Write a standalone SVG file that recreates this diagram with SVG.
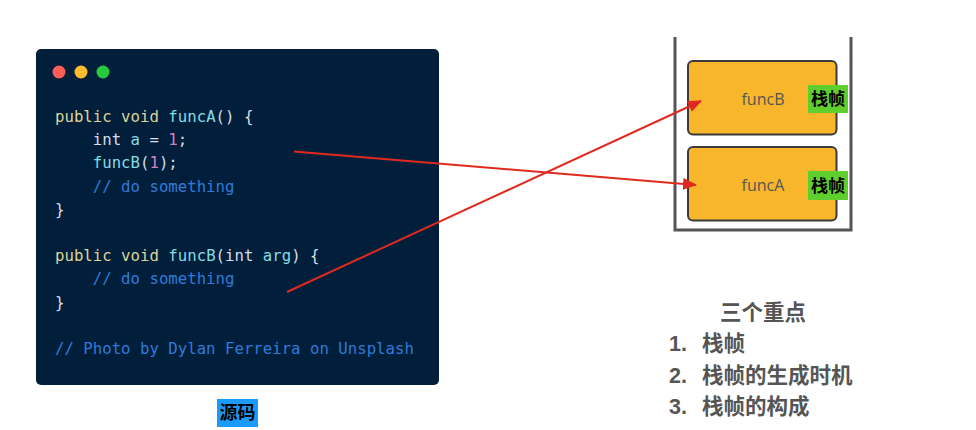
<svg xmlns="http://www.w3.org/2000/svg" width="976" height="430" viewBox="0 0 976 430">
<defs>
<style>
.code{font-family:"DejaVu Sans Mono","Liberation Mono",monospace;font-size:15.7px;fill:#d6deeb;}
.kw{fill:#dcd59a;}
.fn{fill:#86dbe3;}
.num{fill:#d47fc9;}
.cm{fill:#2f7bd8;}
.frame{fill:#f8b62c;stroke:#3a3a3a;stroke-width:2;}
.fname{font-family:"Open Sans","Noto Sans",sans-serif;font-size:16px;fill:#555;text-anchor:middle;}
.tag{fill:#5fcf2e;}
.tagt{font-family:"Noto Sans CJK SC",sans-serif;font-size:17px;font-weight:bold;fill:#000;text-anchor:middle;}
.pt{font-family:"Liberation Sans","Noto Sans CJK SC",sans-serif;font-size:21.5px;font-weight:bold;fill:#555;}
.arr{stroke:#e02a1f;stroke-width:2;fill:none;marker-end:url(#ah);}
</style>
<marker id="ah" markerUnits="userSpaceOnUse" markerWidth="14" markerHeight="12" refX="13" refY="6" orient="auto">
<path d="M0,0 L14,6 L0,12 Z" fill="#e02a1f"/>
</marker>
</defs>
<rect width="976" height="430" fill="#ffffff"/>
<g id="code-panel">
<rect x="36" y="49" width="403" height="336" rx="5" fill="#011f3b"/>
<circle cx="59" cy="72" r="6.5" fill="#ff5f56"/>
<circle cx="81" cy="72" r="6.5" fill="#ffbd2e"/>
<circle cx="103" cy="72" r="6.5" fill="#27c93f"/>
<text class="code" xml:space="preserve"><tspan x="55" y="122"><tspan class="kw">public void</tspan> <tspan class="fn">funcA</tspan>() {</tspan><tspan x="55" y="145.2">    int <tspan class="fn">a</tspan> = <tspan class="num">1</tspan>;</tspan><tspan x="55" y="168.4">    <tspan class="fn">funcB</tspan>(<tspan class="num">1</tspan>);</tspan><tspan x="55" y="191.6" class="cm">    // do something</tspan><tspan x="55" y="214.8">}</tspan><tspan x="55" y="261.2"><tspan class="kw">public void</tspan> <tspan class="fn">funcB</tspan>(int <tspan class="fn">arg</tspan>) {</tspan><tspan x="55" y="284.4" class="cm">    // do something</tspan><tspan x="55" y="307.6">}</tspan><tspan x="55" y="354" class="cm">// Photo by Dylan Ferreira on Unsplash</tspan></text>
</g>
<g id="label-source">
<rect x="217" y="399" width="41" height="28" fill="#1a9bfb"/>
<text x="237.5" y="419" font-family="Noto Sans CJK SC,sans-serif" font-size="18" font-weight="bold" fill="#000" text-anchor="middle">源码</text>
</g>
<g id="stack">
<path d="M675,37 V230 H851 V37" fill="none" stroke="#555" stroke-width="3"/>
</g>
<g id="frame-funcB">
<rect class="frame" x="688" y="61" width="148.5" height="73.5" rx="5"/>
<text class="fname" x="763" y="105">funcB</text>
<rect class="tag" x="808" y="85" width="40" height="28"/>
<text class="tagt" x="828" y="105">栈帧</text>
</g>
<g id="frame-funcA">
<rect class="frame" x="688" y="147" width="148.5" height="73.5" rx="5"/>
<text class="fname" x="763" y="191">funcA</text>
<rect class="tag" x="808" y="171" width="40" height="29"/>
<text class="tagt" x="828" y="191.5">栈帧</text>
</g>
<g id="connectors">
<line class="arr" x1="294" y1="151.5" x2="696" y2="185"/>
<line class="arr" x1="287" y1="292" x2="701" y2="101"/>
</g>
<g id="points">
<text class="pt" x="763" y="320" text-anchor="middle">三个重点</text>
<text class="pt" x="669" y="351">1.</text><text class="pt" x="702" y="351">栈帧</text>
<text class="pt" x="669" y="383">2.</text><text class="pt" x="702" y="383">栈帧的生成时机</text>
<text class="pt" x="669" y="414">3.</text><text class="pt" x="702" y="414">栈帧的构成</text>
</g>
</svg>
